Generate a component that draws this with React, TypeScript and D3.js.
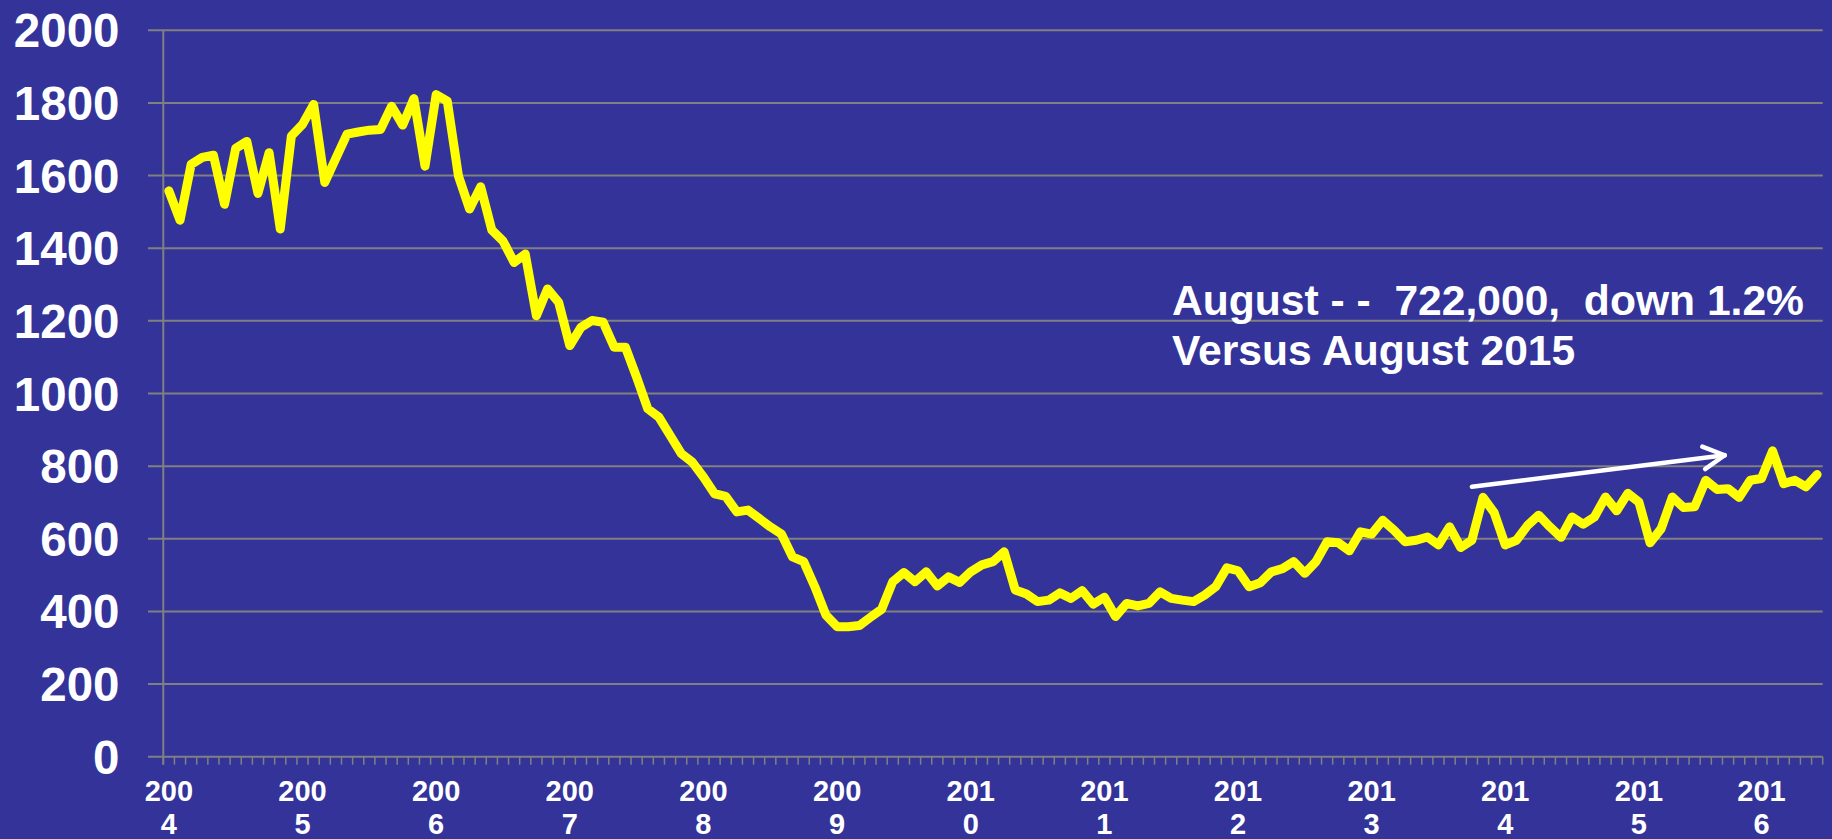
import React from 'react';
import * as d3 from 'd3';

const W = 1832;
const H = 839;

// monthly starts, thousands, Jan 2004 onward
const starts = [
  1558, 1477, 1631, 1650, 1656, 1521, 1675, 1694, 1551, 1663, 1453, 1709,
  1741, 1796, 1581, 1648, 1714, 1720, 1725, 1727, 1791, 1739, 1812, 1626,
  1823, 1805, 1599, 1508, 1569, 1450, 1420, 1361, 1384, 1214, 1288, 1251,
  1132, 1182, 1201, 1196, 1127, 1127, 1045, 958, 935, 885, 835, 811,
  770, 724, 717, 674, 679, 656, 633, 613, 550, 537, 468, 390,
  358, 358, 361, 384, 406, 482, 507, 482, 509, 470, 495, 480,
  509, 528, 537, 564, 459, 448, 427, 431, 451, 436, 457, 420,
  439, 386, 422, 415, 422, 454, 436, 431, 427, 445, 468, 520,
  512, 468, 479, 509, 518, 537, 505, 537, 592, 589, 567, 619,
  613, 651, 624, 592, 596, 605, 583, 633, 576, 596, 714, 672,
  583, 596, 637, 665, 633, 604, 660, 640, 660, 715, 677, 725,
  701, 589, 628, 715, 686, 688, 761, 736, 738, 714, 761, 766,
  842, 752, 761, 743, 777,
];

const yTicks = [0, 200, 400, 600, 800, 1000, 1200, 1400, 1600, 1800, 2000];
const yearLabels = ['2004', '2005', '2006', '2007', '2008', '2009', '2010', '2011', '2012', '2013', '2014', '2015', '2016'];
const yearLabelAt = [0, 12, 24, 36, 48, 60, 72, 84, 96, 108, 120, 132, 143];

const note1 = 'August - -  722,000,  down 1.2%';
const note2 = 'Versus August 2015';

// trend arrow, [category position, value]
const arrowFrom = [117.5, 743];
const arrowTo = [140.2, 830];

const BG = '#333399';
const GRID = '#808080';
const FONT = 'Arial, "Liberation Sans", sans-serif';

export default function App() {
  const x = d3.scaleLinear().domain([0, starts.length]).range([163.3, 1822.7]);
  const y = d3.scaleLinear().domain([0, 2000]).range([756.7, 30.3]);

  const line = d3
    .line<number>()
    .x((d, i) => x(i + 0.5))
    .y((d) => y(d));

  const catTicks = d3.range(starts.length + 1);

  // arrow head
  const tx = x(arrowTo[0]);
  const ty = y(arrowTo[1]);
  const fx = x(arrowFrom[0]);
  const fy = y(arrowFrom[1]);
  const ang = Math.atan2(fy - ty, fx - tx);
  const headLen = 24;
  const spread = (28 * Math.PI) / 180;
  const head = [ang - spread, ang + spread].map((a) => [tx + headLen * Math.cos(a), ty + headLen * Math.sin(a)]);

  return (
    <svg
      width={W}
      height={H}
      style={{ position: 'absolute', left: 0, top: 0, display: 'block', background: BG }}
    >
      <rect x={0} y={0} width={W} height={H} fill={BG} />

      {/* gridlines + y labels */}
      {yTicks.map((t) => (
        <g key={t}>
          <line x1={148} x2={x(starts.length)} y1={y(t)} y2={y(t)} stroke={GRID} strokeWidth={2} />
          <text
            x={119.5}
            y={y(t) + 17}
            textAnchor="end"
            fill="#fff"
            fontFamily={FONT}
            fontWeight="bold"
            fontSize={47.5}
          >
            {t}
          </text>
        </g>
      ))}

      {/* y axis */}
      <line x1={x(0)} x2={x(0)} y1={y(2000)} y2={y(0) + 8} stroke={GRID} strokeWidth={2} />

      {/* month ticks */}
      {catTicks.map((k) => (
        <line key={k} x1={x(k)} x2={x(k)} y1={y(0)} y2={y(0) + 8} stroke={GRID} strokeWidth={1.5} />
      ))}

      {/* year labels */}
      {yearLabels.map((lab, j) => (
        <text
          key={lab}
          x={x(yearLabelAt[j] + 0.5)}
          textAnchor="middle"
          fill="#fff"
          fontFamily={FONT}
          fontWeight="bold"
          fontSize={29}
        >
          <tspan x={x(yearLabelAt[j] + 0.5)} y={800.7}>{lab.slice(0, 3)}</tspan>
          <tspan x={x(yearLabelAt[j] + 0.5)} y={834}>{lab.slice(3)}</tspan>
        </text>
      ))}

      {/* series */}
      <path
        d={line(starts) || ''}
        fill="none"
        stroke="#ffff00"
        strokeWidth={9}
        strokeLinejoin="round"
        strokeLinecap="round"
      />

      {/* note */}
      <text fill="#fff" fontFamily={FONT} fontWeight="bold" fontSize={42.6} style={{ whiteSpace: 'pre' }}>
        <tspan x={1172} y={314.5}>{note1}</tspan>
        <tspan x={1172} y={365}>{note2}</tspan>
      </text>

      {/* trend arrow */}
      <g stroke="#fff" strokeWidth={4.5} strokeLinecap="round" fill="none">
        <line x1={fx} y1={fy} x2={tx} y2={ty} />
        {head.map((p, i) => (
          <line key={i} x1={p[0]} y1={p[1]} x2={tx} y2={ty} />
        ))}
      </g>
    </svg>
  );
}
